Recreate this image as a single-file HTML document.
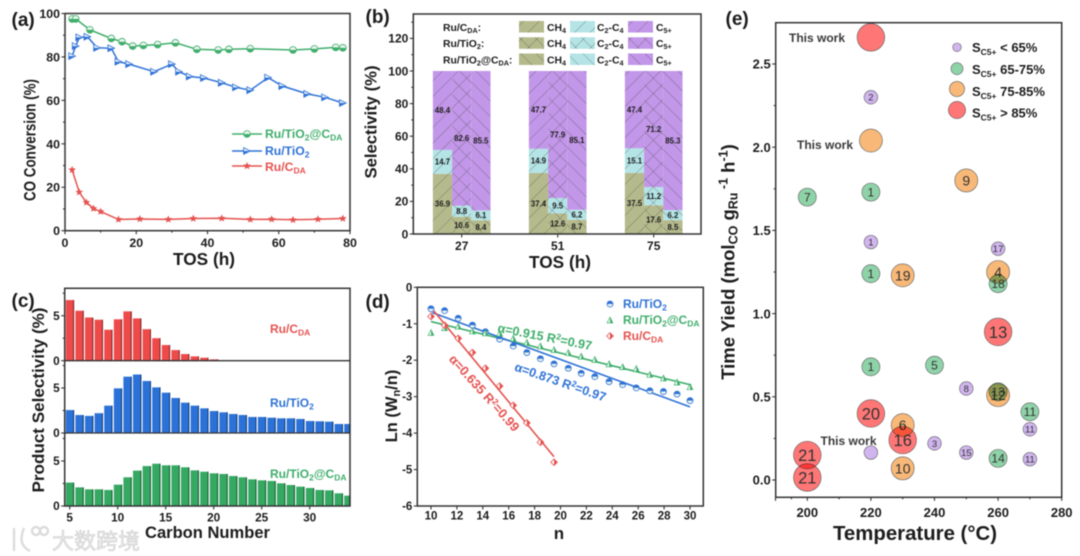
<!DOCTYPE html>
<html lang="en">
<head>
<meta charset="utf-8">
<title>Catalyst performance figure</title>
<style>
html,body{margin:0;padding:0;background:#fff;width:1080px;height:556px;overflow:hidden}
svg{display:block;filter:blur(0.45px)}
text{font-family:"Liberation Sans","Noto Sans CJK SC",sans-serif;fill:#1c1c1c}
.b{font-weight:bold}
.bubble{mix-blend-mode:multiply}
</style>
</head>
<body>
<svg id="figure" xmlns="http://www.w3.org/2000/svg" width="1080" height="556" viewBox="0 0 1080 556">
<defs>
<pattern id="hatch-right" width="11" height="11" patternUnits="userSpaceOnUse" patternTransform="rotate(45)"><line x1="0" y1="0" x2="0" y2="11" stroke="#444" stroke-width="0.5"/></pattern>
<pattern id="hatch-left" width="11" height="11" patternUnits="userSpaceOnUse" patternTransform="rotate(-45)"><line x1="0" y1="0" x2="0" y2="11" stroke="#444" stroke-width="0.5"/></pattern>
<pattern id="hatch-cross" width="11" height="11" patternUnits="userSpaceOnUse" patternTransform="rotate(45)"><line x1="0" y1="0" x2="0" y2="11" stroke="#444" stroke-width="0.5"/><line x1="0" y1="0" x2="11" y2="0" stroke="#444" stroke-width="0.5"/></pattern>
</defs>
<rect width="1080" height="556" fill="#fff"/>

<g id="panel-a"></g>
<g id="panel-b"></g>
<g id="panel-c"></g>
<g id="panel-d"></g>
<g id="panel-e"></g>

<g font-size="19" class="b">
<text class="b" x="11.5" y="26">(a)</text>
<text class="b" x="365.5" y="23">(b)</text>
<text class="b" x="11.5" y="307">(c)</text>
<text class="b" x="365.5" y="308">(d)</text>
<text class="b" x="725.5" y="25">(e)</text>
</g>

<!-- panel a text -->
<text class="b" font-size="16.5" text-anchor="middle" textLength="122" lengthAdjust="spacingAndGlyphs" transform="translate(35.5,140) rotate(-90)">CO Conversion (%)</text>
<text class="b" font-size="17.5" text-anchor="middle" textLength="62" lengthAdjust="spacingAndGlyphs" x="204" y="265">TOS (h)</text>
<text class="b" font-size="12.2" x="265" y="138" style="fill:#3fae6b">Ru/TiO<tspan font-size="8.5" dy="2.5">2</tspan><tspan dy="-2.5">@C</tspan><tspan font-size="8.5" dy="2.5">DA</tspan></text>
<text class="b" font-size="12.2" x="265" y="155" style="fill:#2f72d6">Ru/TiO<tspan font-size="8.5" dy="2.5">2</tspan></text>
<text class="b" font-size="12.2" x="265" y="171" style="fill:#e5524f">Ru/C<tspan font-size="8.5" dy="2.5">DA</tspan></text>

<!-- panel b text -->
<text class="b" font-size="16.5" text-anchor="middle" textLength="113" lengthAdjust="spacingAndGlyphs" transform="translate(376.5,122) rotate(-90)">Selectivity (%)</text>
<text class="b" font-size="17.5" text-anchor="middle" textLength="62" lengthAdjust="spacingAndGlyphs" x="560" y="268">TOS (h)</text>
<g font-size="10.4" class="b">
<text class="b" x="443" y="31">Ru/C<tspan font-size="7.2" dy="2">DA</tspan><tspan dy="-2">:</tspan></text>
<text class="b" x="443" y="47">Ru/TiO<tspan font-size="7.2" dy="2">2</tspan><tspan dy="-2">:</tspan></text>
<text class="b" x="443" y="63.5">Ru/TiO<tspan font-size="7.2" dy="2">2</tspan><tspan dy="-2">@C</tspan><tspan font-size="7.2" dy="2">DA</tspan><tspan dy="-2">:</tspan></text>
<text class="b" x="547" y="31">CH<tspan font-size="7.2" dy="2">4</tspan></text>
<text class="b" x="547" y="47">CH<tspan font-size="7.2" dy="2">4</tspan></text>
<text class="b" x="547" y="63.5">CH<tspan font-size="7.2" dy="2">4</tspan></text>
<text class="b" x="597" y="31">C<tspan font-size="7.2" dy="2">2</tspan><tspan dy="-2">-C</tspan><tspan font-size="7.2" dy="2">4</tspan></text>
<text class="b" x="597" y="47">C<tspan font-size="7.2" dy="2">2</tspan><tspan dy="-2">-C</tspan><tspan font-size="7.2" dy="2">4</tspan></text>
<text class="b" x="597" y="63.5">C<tspan font-size="7.2" dy="2">2</tspan><tspan dy="-2">-C</tspan><tspan font-size="7.2" dy="2">4</tspan></text>
<text class="b" x="656" y="31">C<tspan font-size="7.2" dy="2">5+</tspan></text>
<text class="b" x="656" y="47">C<tspan font-size="7.2" dy="2">5+</tspan></text>
<text class="b" x="656" y="63.5">C<tspan font-size="7.2" dy="2">5+</tspan></text>
</g>

<!-- panel c text -->
<text class="b" font-size="17" text-anchor="middle" textLength="185" lengthAdjust="spacingAndGlyphs" transform="translate(44,400) rotate(-90)">Product Selectivity (%)</text>
<text class="b" font-size="16.5" text-anchor="middle" textLength="125" lengthAdjust="spacingAndGlyphs" x="207.5" y="538">Carbon Number</text>
<text class="b" font-size="12" x="270" y="333" style="fill:#e5524f">Ru/C<tspan font-size="8.5" dy="2.5">DA</tspan></text>
<text class="b" font-size="12" x="270" y="407" style="fill:#2f72d6">Ru/TiO<tspan font-size="8.5" dy="2.5">2</tspan></text>
<text class="b" font-size="12" x="270" y="478" style="fill:#3fae6b">Ru/TiO<tspan font-size="8.5" dy="2.5">2</tspan><tspan dy="-2.5">@C</tspan><tspan font-size="8.5" dy="2.5">DA</tspan></text>

<!-- panel d text -->
<text class="b" font-size="16.5" text-anchor="middle" transform="translate(397,406) rotate(-90)">Ln (W<tspan font-size="11" dy="3">n</tspan><tspan dy="-3">/n)</tspan></text>
<text class="b" font-size="17" text-anchor="middle" x="559" y="539">n</text>
<text class="b" font-size="12" x="623" y="308" style="fill:#2f72d6">Ru/TiO<tspan font-size="8.5" dy="2.5">2</tspan></text>
<text class="b" font-size="12" x="623" y="324" style="fill:#3fae6b">Ru/TiO<tspan font-size="8.5" dy="2.5">2</tspan><tspan dy="-2.5">@C</tspan><tspan font-size="8.5" dy="2.5">DA</tspan></text>
<text class="b" font-size="12" x="623" y="340" style="fill:#e5524f">Ru/C<tspan font-size="8.5" dy="2.5">DA</tspan></text>
<text class="b" font-size="12.6" text-anchor="middle" transform="translate(544,341) rotate(11)" style="fill:#3fae6b">α=0.915  R<tspan font-size="8.5" dy="-4">2</tspan><tspan dy="4">=0.97</tspan></text>
<text class="b" font-size="12.6" text-anchor="middle" transform="translate(559,386) rotate(19)" style="fill:#2f72d6">α=0.873  R<tspan font-size="8.5" dy="-4">2</tspan><tspan dy="4">=0.97</tspan></text>
<text class="b" font-size="12.9" text-anchor="middle" transform="translate(481,396) rotate(48)" style="fill:#e5524f">α=0.635  R<tspan font-size="8.5" dy="-4">2</tspan><tspan dy="4">=0.99</tspan></text>

<!-- panel e text -->
<text class="b" font-size="18.5" text-anchor="middle" transform="translate(734.5,262) rotate(-90)">Time Yield (mol<tspan font-size="12.5" dy="3">CO</tspan><tspan dy="-3"> g</tspan><tspan font-size="12.5" dy="3">Ru</tspan><tspan font-size="12.5" dy="-10"> -1</tspan><tspan dy="7"> h</tspan><tspan font-size="12.5" dy="-7">-1</tspan><tspan dy="7">)</tspan></text>
<text class="b" font-size="20" text-anchor="middle" textLength="164" lengthAdjust="spacingAndGlyphs" x="915" y="540">Temperature (°C)</text>
<text class="b" font-size="12" x="789" y="42" style="fill:#3a3a3a">This work</text>
<text class="b" font-size="12" x="797" y="149" style="fill:#3a3a3a">This work</text>
<text class="b" font-size="12" x="820.5" y="445" style="fill:#3a3a3a">This work</text>
<g font-size="13" class="b">
<text class="b" x="972" y="52">S<tspan font-size="8.5" dy="3">C5+</tspan><tspan dy="-3"> &lt; 65%</tspan></text>
<text class="b" x="972" y="74">S<tspan font-size="8.5" dy="3">C5+</tspan><tspan dy="-3"> 65-75%</tspan></text>
<text class="b" x="972" y="96">S<tspan font-size="8.5" dy="3">C5+</tspan><tspan dy="-3"> 75-85%</tspan></text>
<text class="b" x="972" y="117.5">S<tspan font-size="8.5" dy="3">C5+</tspan><tspan dy="-3"> &gt; 85%</tspan></text>
</g>

<!-- watermark -->
<g>
<g fill="none" stroke="#dcdcdc" stroke-width="2.4">
<path d="M14 528 V551 M24 528 C20 538 20 546 30 551"/>
<circle cx="36" cy="531" r="4"/>
<circle cx="44" cy="531" r="4"/>
</g>
<text font-size="22" x="52" y="549" style="fill:#e9e9e9;stroke:#c8c8c8;stroke-width:0.5">大数跨境</text>
</g>
</svg>

<script>
// ---------- Panel (a) data ----------
const aXTicks = [0, 20, 40, 60, 80];
const aYTicks = [0, 20, 40, 60, 80, 100];
const aGreenTos = [2, 3, 7, 13, 16, 19, 22, 26, 31, 37, 43, 46, 52, 64, 70, 76, 78];
const aGreenConv = [97.5, 97.5, 92.5, 88.5, 87, 85, 85.3, 85.7, 86.5, 83.5, 83.2, 83.5, 83.8, 83.2, 83.7, 84.4, 84.2];
const aBlueTos = [2, 3, 4, 6.3, 9, 13, 15, 18, 25, 30, 32, 35, 39, 44, 48, 52, 57, 61, 68, 73, 78];
const aBlueConv = [80.4, 85, 89, 89.3, 84.2, 84, 77.8, 76.7, 73.2, 76.7, 73.2, 71, 70.3, 68.1, 66, 64.7, 70.5, 66.6, 63, 61.4, 58.8];
const aRedTos = [2, 4, 6, 8, 10, 15, 21, 29, 36, 44, 52, 58, 64, 71, 78];
const aRedConv = [28, 17.7, 13, 10.2, 8.8, 5.2, 5.4, 5.2, 5.6, 5.7, 5.2, 5.3, 5, 5.3, 5.6];

// ---------- Panel (b) data ----------
const bTimes = [27, 51, 75];
const bYTicks = [0, 20, 40, 60, 80, 100, 120];
const bCh4 = [[36.9, 10.6, 8.4], [37.4, 12.6, 8.7], [37.5, 17.6, 8.5]];
const bC2C4 = [[14.7, 6.8, 6.1], [14.9, 9.5, 6.2], [15.1, 11.2, 6.2]];
const bC5 = [[48.4, 82.6, 85.5], [47.7, 77.9, 85.1], [47.4, 71.2, 85.3]];
const bC2C4Labels = [['14.7', '8.8', '6.1'], ['14.9', '9.5', '6.2'], ['15.1', '11.2', '6.2']];

// ---------- Panel (c) data ----------
const cXTicks = [5, 10, 15, 20, 25, 30];
const cYTicks = [0, 5];
const cRedValues = [6.74, 5.55, 4.8, 4.55, 3.44, 4.6, 5.48, 4.7, 3.5, 2.5, 1.74, 1.18, 0.74, 0.48, 0.33, 0.15, 0.07];
const cBlueValues = [2.55, 2, 1.9, 2.2, 3.04, 4.96, 6.26, 6.5, 5.78, 5.07, 4.48, 3.89, 3.37, 3.04, 2.74, 2.44, 2.3, 2.11, 2, 1.78, 1.78, 1.7, 1.63, 1.63, 1.56, 1.33, 1.3, 1.26, 1, 1];
const cGreenValues = [2.6, 2.07, 1.85, 1.85, 1.78, 2.37, 3.19, 3.93, 4.44, 4.7, 4.52, 4.52, 4.3, 3.96, 3.81, 3.63, 3.56, 3.33, 3.19, 2.96, 2.85, 2.78, 2.52, 2.33, 2.15, 2, 1.78, 1.74, 1.41, 1.15];

// ---------- Panel (d) data ----------
const dXTicks = [10, 12, 14, 16, 18, 20, 22, 24, 26, 28, 30];
const dYTicks = [0, -1, -2, -3, -4, -5, -6];
const dLongN = [10, 11.05, 12.1, 13.2, 14.2, 15.3, 16.35, 17.4, 18.45, 19.5, 20.6, 21.6, 22.65, 23.75, 24.8, 25.85, 26.9, 27.95, 29, 30];
const dBlueLn = [-0.59, -0.64, -0.85, -1.04, -1.22, -1.42, -1.61, -1.79, -1.96, -2.1, -2.22, -2.36, -2.45, -2.59, -2.67, -2.76, -2.84, -2.86, -2.93, -3.11];
const dGreenLn = [-1.24, -1.11, -1.07, -1.2, -1.25, -1.26, -1.4, -1.51, -1.61, -1.71, -1.79, -1.89, -1.98, -2.1, -2.18, -2.23, -2.39, -2.49, -2.6, -2.73];
const dRedN = [10, 11.05, 12.1, 13.2, 14.2, 15.3, 16.35, 17.4, 18.45, 19.5];
const dRedLn = [-0.8, -1.04, -1.4, -1.79, -2.22, -2.71, -3.24, -3.72, -4.25, -4.8];
const dBlueFitN = [10.1, 30];
const dBlueFitLn = [-0.695, -3.28];
const dGreenFitN = [10, 30.1];
const dGreenFitLn = [-0.94, -2.68];
const dRedFitN = [10.2, 19.5];
const dRedFitLn = [-0.64, -4.65];

// ---------- Panel (e) data ----------
const eXTicks = [200, 220, 240, 260, 280];
const eYTicks = [0, 0.5, 1, 1.5, 2, 2.5];
const ePurpleTemp = [220, 220, 260, 250, 270, 240, 250, 270, 220];
const ePurpleYield = [2.3, 1.43, 1.39, 0.55, 0.305, 0.22, 0.165, 0.125, 0.165];
const ePurpleRefs = ['2', '1', '17', '8', '11', '3', '15', '11', ''];
const eOrangeTemp = [220, 250, 230, 260, 260, 230, 230];
const eOrangeYield = [2.04, 1.8, 1.23, 1.25, 0.51, 0.33, 0.07];
const eOrangeRefs = ['', '9', '19', '4', '12', '6', '10'];
const eGreenTemp = [200, 220, 220, 260, 220, 240, 260, 270, 260];
const eGreenYield = [1.7, 1.73, 1.24, 1.18, 0.68, 0.69, 0.53, 0.41, 0.13];
const eGreenRefs = ['7', '1', '1', '18', '1', '5', '13', '11', '14'];
const eRedTemp = [220, 260, 220, 230, 200, 200];
const eRedYield = [2.66, 0.89, 0.4, 0.24, 0.15, 0.015];
const eRedRefs = ['', '13', '20', '16', '21', '21'];

const NS = 'http://www.w3.org/2000/svg';
const GREEN = '#3fae6b', BLUE = '#2f72d6', RED = '#e5524f', INK = '#333';

function make(tag, attrs, parent) {
  const node = document.createElementNS(NS, tag);
  for (const k in attrs) node.setAttribute(k, attrs[k]);
  parent.appendChild(node);
  return node;
}
function linear(d0, d1, r0, r1) {
  return v => r0 + (v - d0) * (r1 - r0) / (d1 - d0);
}
function drawFrame(parent, x0, y0, x1, y1, name) {
  const el = make('rect', { x: x0, y: y0, width: x1 - x0, height: y1 - y0, fill: 'none', stroke: INK, 'stroke-width': 1.5 }, parent);
  
  
}
function xTick(parent, px, y, len, name) {
  const el = make('line', { x1: px, x2: px, y1: y, y2: y + len, stroke: INK, 'stroke-width': 1.1 }, parent);
  
  
}
function yTick(parent, x, py, len, name) {
  const el = make('line', { x1: x, x2: x - len, y1: py, y2: py, stroke: INK, 'stroke-width': 1.1 }, parent);
  
  
}
function tickText(parent, x, y, str, anchor, size, name) {
  const el = make('text', { x: x, y: y, 'text-anchor': anchor, 'font-size': size, 'font-weight': 'bold' }, parent);
  el.textContent = str;
  
  
}
function axes(parent, name, sx, sy, xs, ys, x0, y1, fmtY, size, xBase) {
  xs.forEach((v, i) => {
    xTick(parent, sx(v), y1, 3.5, name);
    tickText(parent, sx(v), xBase, String(v), 'middle', size, name + '-x');
    if (i < xs.length - 1) xTick(parent, sx((v + xs[i + 1]) / 2), y1, 2, name + '-minor');
  });
  ys.forEach((v, i) => {
    yTick(parent, x0, sy(v), 3.5, name);
    tickText(parent, x0 - 5, sy(v) + size * 0.36, fmtY(v), 'end', size, name + '-y');
    if (i < ys.length - 1) yTick(parent, x0, sy((v + ys[i + 1]) / 2), 2, name + '-minor');
  });
}
function polyPoints(xv, yv, sx, sy) {
  return xv.map((v, i) => sx(v).toFixed(1) + ',' + sy(yv[i]).toFixed(1)).join(' ');
}
// half-filled markers
function halfCircle(parent, cx, cy, r, color, bottom, name) {
  const g = make('g', { transform: 'translate(' + cx + ',' + cy + ')' }, parent);
  
  
  make('circle', { r: r, fill: '#eaf4ee', stroke: color, 'stroke-width': 0.8 }, g);
  const sweep = bottom ? 0 : 1;
  make('path', { d: 'M' + (-r) + ' 0 A' + r + ' ' + r + ' 0 0 ' + sweep + ' ' + r + ' 0 Z', fill: color }, g);
}
function halfTriangleRight(parent, cx, cy, r, color, name) {
  const g = make('g', { transform: 'translate(' + cx + ',' + cy + ')' }, parent);
  
  
  make('path', { d: 'M' + (-r) + ' ' + (-r) + ' L' + r + ' 0 L' + (-r) + ' ' + r + ' Z', fill: '#e6effb', stroke: color, 'stroke-width': 0.8 }, g);
  make('path', { d: 'M' + (-r) + ' 0 L' + r + ' 0 L' + (-r) + ' ' + r + ' Z', fill: color }, g);
}
function starMark(parent, cx, cy, r, color, name) {
  let d = '';
  for (let i = 0; i < 10; i++) {
    const a = -Math.PI / 2 + i * Math.PI / 5, rr = i % 2 ? r * 0.45 : r;
    d += (i ? 'L' : 'M') + (cx + rr * Math.cos(a)).toFixed(2) + ' ' + (cy + rr * Math.sin(a)).toFixed(2);
  }
  const el = make('path', { d: d + 'Z', fill: color }, parent);
  
  
}
function halfTriangleUp(parent, cx, cy, r, color, name) {
  const g = make('g', { transform: 'translate(' + cx + ',' + cy + ')' }, parent);
  
  
  make('path', { d: 'M0 ' + (-r) + ' L' + r + ' ' + r + ' L' + (-r) + ' ' + r + ' Z', fill: '#fff', stroke: color, 'stroke-width': 0.7 }, g);
  make('path', { d: 'M0 ' + (-r) + ' L' + r + ' ' + r + ' L0 ' + r + ' Z', fill: color }, g);
}
function halfDiamond(parent, cx, cy, r, color, name) {
  const g = make('g', { transform: 'translate(' + cx + ',' + cy + ')' }, parent);
  
  
  make('path', { d: 'M0 ' + (-r) + ' L' + r + ' 0 L0 ' + r + ' L' + (-r) + ' 0 Z', fill: '#fff', stroke: color, 'stroke-width': 0.8 }, g);
  make('path', { d: 'M0 ' + (-r) + ' L' + r + ' 0 L0 ' + r + ' Z', fill: color }, g);
}

// ========== Panel (a) ==========
(function () {
  const p = document.getElementById('panel-a');
  const L = 65, R = 350, T = 13.5, B = 230.7;
  const sx = linear(0, 80, L, R), sy = linear(0, 100, B, T);
  drawFrame(p, L, T, R, B, 'panel-a');
  axes(p, 'panel-a', sx, sy, aXTicks, aYTicks, L, B, v => String(v), 12.4, 247);
  const s1 = make('polyline', { points: polyPoints(aGreenTos, aGreenConv, sx, sy), fill: 'none', stroke: GREEN, 'stroke-width': 1.5 }, p);
  
  
  const s2 = make('polyline', { points: polyPoints(aBlueTos, aBlueConv, sx, sy), fill: 'none', stroke: BLUE, 'stroke-width': 1.5 }, p);
  
  
  const s3 = make('polyline', { points: polyPoints(aRedTos, aRedConv, sx, sy), fill: 'none', stroke: RED, 'stroke-width': 1.5 }, p);
  
  
  aGreenTos.forEach((v, i) => halfCircle(p, sx(v), sy(aGreenConv[i]), 3.4, GREEN, true, 'point-ru-tio2-cda'));
  aBlueTos.forEach((v, i) => halfTriangleRight(p, sx(v), sy(aBlueConv[i]), 3.4, BLUE, 'point-ru-tio2'));
  aRedTos.forEach((v, i) => starMark(p, sx(v), sy(aRedConv[i]), 4, RED, 'point-ru-cda'));
  // legend
  const l1 = make('line', { x1: 232, x2: 262, y1: 134, y2: 134, stroke: GREEN, 'stroke-width': 1.5 }, p);
  
  
  const l2 = make('line', { x1: 232, x2: 262, y1: 151, y2: 151, stroke: BLUE, 'stroke-width': 1.5 }, p);
  
  
  const l3 = make('line', { x1: 232, x2: 262, y1: 166, y2: 166, stroke: RED, 'stroke-width': 1.5 }, p);
  
  
  halfCircle(p, 247, 134, 3.4, GREEN, true, 'legend-a-green-marker');
  halfTriangleRight(p, 247, 151, 3.4, BLUE, 'legend-a-blue-marker');
  starMark(p, 247, 166, 4, RED, 'legend-a-red-marker');
})();

// ========== Panel (b) ==========
(function () {
  const p = document.getElementById('panel-b');
  const L = 413.3, R = 701, T = 14, B = 234;
  const sx = linear(27, 51, 461.7, 557.7), sy = linear(0, 100, B, 71);
  const FILLS = ['#b5ba8c', '#b4e4e6', '#c296e8'];
  const HATCH = ['url(#hatch-right)', 'url(#hatch-cross)', 'url(#hatch-left)'];
  const BW = 19.2;
  bTimes.forEach((t, i) => {
    for (let j = 0; j < 3; j++) {
      const vals = [bCh4[i][j], bC2C4[i][j], bC5[i][j]];
      let base = 0;
      const x = sx(t) + (j - 1.5) * BW;
      vals.forEach((v, k) => {
        const y = sy(base + v), h = sy(base) - y;
        const r1 = make('rect', { x: x, y: y, width: BW, height: h, fill: FILLS[k] }, p);
        
        
        const r2 = make('rect', { x: x, y: y, width: BW, height: h, fill: HATCH[j] }, p);
        
        
        base += v;
      });
    }
  });
  bTimes.forEach((t, i) => {
    for (let j = 0; j < 3; j++) {
      const vals = [bCh4[i][j], bC2C4[i][j], bC5[i][j]];
      const strs = [String(vals[0]), bC2C4Labels[i][j], String(vals[2])];
      let base = 0;
      const x = sx(t) + (j - 1) * BW;
      vals.forEach((v, k) => {
        const tx = make('text', { x: x, y: sy(base + v / 2) + 2.8, 'text-anchor': 'middle', 'font-size': 7.8, 'font-weight': 'bold' }, p);
        tx.textContent = strs[k];
        
        
        base += v;
      });
    }
  });
  drawFrame(p, L, T, R, B, 'panel-b');
  axes(p, 'panel-b', sx, sy, [], bYTicks, L, B, v => String(v), 12, 249);
  yTick(p, L, sy(130), 2, 'panel-b-minor');
  bTimes.forEach(t => {
    xTick(p, sx(t), B, 3.5, 'panel-b');
    tickText(p, sx(t), 250, String(t), 'middle', 12, 'panel-b-x');
  });
  // legend swatches
  const rowsY = [21, 37.3, 53.5], colsX = [519, 570, 628];
  rowsY.forEach((y, r) => {
    colsX.forEach((x, c) => {
      const a = make('rect', { x: x, y: y, width: 25, height: 11.5, fill: FILLS[c] }, p);
      
      
      const h = make('rect', { x: x, y: y, width: 25, height: 11.5, fill: HATCH[r] }, p);
      
      
    });
  });
})();

// ========== Panel (c) ==========
(function () {
  const p = document.getElementById('panel-c');
  const L = 64.7, R = 350, rows = [288.3, 360.7, 433, 506];
  const sx = linear(5, 30, 69.7, 309.7);
  const UNIT = 9;
  const series = [
    { vals: cRedValues, fill: '#ee4a4a', edge: '#6d2222', name: 'bar-ru-cda' },
    { vals: cBlueValues, fill: '#2b72d8', edge: '#0f3263', name: 'bar-ru-tio2' },
    { vals: cGreenValues, fill: '#35a862', edge: '#154d2c', name: 'bar-ru-tio2-cda' }
  ];
  series.forEach((s, r) => {
    const base = rows[r + 1];
    s.vals.forEach((v, i) => {
      const n = 5 + i, x = sx(n);
      const left = Math.max(L, x - 3.9), right = Math.min(R, x + 4.4);
      const bar = make('rect', { x: left, y: base - v * UNIT, width: right - left, height: v * UNIT, fill: s.fill }, p);
      
      
      const edge = make('rect', { x: right - 0.9, y: base - v * UNIT, width: 0.9, height: v * UNIT, fill: s.edge }, p);
      
      
    });
    cYTicks.forEach(v => {
      yTick(p, L, base - v * UNIT, 3.5, 'panel-c');
      tickText(p, L - 5, base - v * UNIT + 4.2, String(v), 'end', 11.8, 'panel-c-y');
    });
    yTick(p, L, base - 2.5 * UNIT, 2, 'panel-c-minor');
    yTick(p, L, base - 7.5 * UNIT, 2, 'panel-c-minor');
  });
  drawFrame(p, L, rows[0], R, rows[3], 'panel-c');
  [rows[1], rows[2]].forEach(y => {
    const d = make('line', { x1: L, x2: R, y1: y, y2: y, stroke: INK, 'stroke-width': 1.3 }, p);
    
    
  });
  cXTicks.forEach(v => {
    xTick(p, sx(v), rows[3], 3.5, 'panel-c');
    tickText(p, sx(v), 521.5, String(v), 'middle', 11.8, 'panel-c-x');
  });
})();

// ========== Panel (d) ==========
(function () {
  const p = document.getElementById('panel-d');
  const L = 417.3, R = 703.3, T = 287.3, B = 506;
  const sx = linear(10, 30, 431, 690), sy = linear(0, -6, T, B);
  drawFrame(p, L, T, R, B, 'panel-d');
  dXTicks.forEach(v => {
    xTick(p, sx(v), B, 3.5, 'panel-d');
    tickText(p, sx(v), 519.5, String(v), 'middle', 11.5, 'panel-d-x');
  });
  dYTicks.forEach(v => {
    yTick(p, L, sy(v), 3.5, 'panel-d');
    tickText(p, L - 5, sy(v) + 4, String(v), 'end', 11.5, 'panel-d-y');
  });
  const f1 = make('line', { x1: sx(dGreenFitN[0]), y1: sy(dGreenFitLn[0]), x2: sx(dGreenFitN[1]), y2: sy(dGreenFitLn[1]), stroke: GREEN, 'stroke-width': 1.6 }, p);
  
  
  const f2 = make('line', { x1: sx(dBlueFitN[0]), y1: sy(dBlueFitLn[0]), x2: sx(dBlueFitN[1]), y2: sy(dBlueFitLn[1]), stroke: BLUE, 'stroke-width': 1.6 }, p);
  
  
  const f3 = make('line', { x1: sx(dRedFitN[0]), y1: sy(dRedFitLn[0]), x2: sx(dRedFitN[1]), y2: sy(dRedFitLn[1]), stroke: RED, 'stroke-width': 1.6 }, p);
  
  
  dLongN.forEach((n, i) => halfCircle(p, sx(n), sy(dBlueLn[i]), 3, BLUE, false, 'point-ru-tio2'));
  dLongN.forEach((n, i) => halfTriangleUp(p, sx(n), sy(dGreenLn[i]), 2.9, GREEN, 'point-ru-tio2-cda'));
  dRedN.forEach((n, i) => halfDiamond(p, sx(n), sy(dRedLn[i]), 3.3, RED, 'point-ru-cda'));
  halfCircle(p, 610, 304, 3, BLUE, false, 'legend-d-blue-marker');
  halfTriangleUp(p, 610, 320, 2.9, GREEN, 'legend-d-green-marker');
  halfDiamond(p, 610, 336, 3.3, RED, 'legend-d-red-marker');
})();

// ========== Panel (e) ==========
(function () {
  const p = document.getElementById('panel-e');
  const L = 775.7, R = 1061.7, T = 22.7, B = 497.3;
  const sx = linear(200, 280, 807.3, 1061.7), sy = linear(0, 2.5, 480, 64);
  drawFrame(p, L, T, R, B, 'panel-e');
  axes(p, 'panel-e', sx, sy, eXTicks, eYTicks, L, B, v => v.toFixed(1), 13, 517);
  xTick(p, sx(190), B, 3.5, 'panel-e-start');
  xTick(p, sx(195), B, 2, 'panel-e-minor');
  function bubbles(temps, yields, refs, r, fill, fs, name) {
    temps.forEach((t, i) => {
      const c = make('circle', { class: 'bubble', cx: sx(t), cy: sy(yields[i]), r: r, fill: fill, stroke: '#5f5f5f', 'stroke-width': 0.6 }, p);
      
      
      if (refs[i]) {
        const tx = make('text', { x: sx(t), y: sy(yields[i]) + fs * 0.36, 'text-anchor': 'middle', 'font-size': fs, style: 'fill:#333' }, p);
        tx.textContent = refs[i];
        
        
      }
    });
  }
  bubbles(ePurpleTemp, ePurpleYield, ePurpleRefs, 6.8, '#d0b5ee', 9.5, 'bubble-below-65');
  bubbles(eOrangeTemp, eOrangeYield, eOrangeRefs, 11.5, '#f8b878', 14, 'bubble-75-85');
  bubbles(eGreenTemp, eGreenYield, eGreenRefs, 9, '#8ed2a8', 12, 'bubble-65-75');
  bubbles(eRedTemp, eRedYield, eRedRefs, 13.8, '#ff7676', 16.5, 'bubble-above-85');
  const legendY = [47.3, 68.7, 89, 110];
  const legendR = [4.3, 6, 7.6, 8.6];
  const legendFill = ['#d0b5ee', '#8ed2a8', '#f8b878', '#ff7676'];
  legendY.forEach((y, i) => {
    const c = make('circle', { cx: 957, cy: y, r: legendR[i], fill: legendFill[i], stroke: '#5f5f5f', 'stroke-width': 0.6 }, p);
    
    
  });
})();
</script>
</body>
</html>
